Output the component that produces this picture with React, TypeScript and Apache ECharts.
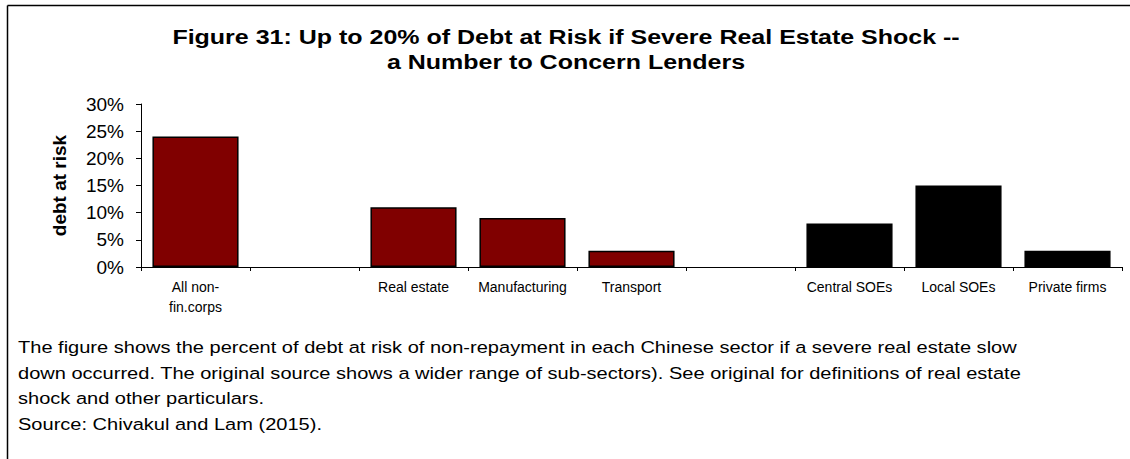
import React, { useEffect, useRef } from "react";
import * as echarts from "echarts";

const categories = [
  "All non-\nfin.corps",
  "",
  "Real estate",
  "Manufacturing",
  "Transport",
  "",
  "Central SOEs",
  "Local SOEs",
  "Private firms",
];
const debtAtRisk: (number | null)[] = [24, null, 11, 9, 3, null, 8, 15, 3];
const yTicks = { min: 0, max: 30, interval: 5 };
const titleLines = [
  "Figure 31: Up to 20% of Debt at Risk if Severe Real Estate Shock --",
  "a Number to Concern Lenders",
];
const noteLines = [
  "The figure shows the percent of debt at risk of non-repayment in each Chinese sector if a severe real estate slow",
  "down occurred. The original source shows a wider range of sub-sectors). See original for definitions of real estate",
  "shock and other particulars.",
  "Source: Chivakul and Lam (2015).",
];

const FONT = "'Liberation Sans', Arial, sans-serif";

export default function App() {
  const ref = useRef<HTMLDivElement>(null);
  useEffect(() => {
    if (!ref.current) return;
    const chart = echarts.init(ref.current, undefined, { renderer: "svg" });
    chart.setOption({
      animation: false,
      backgroundColor: "#ffffff",
      textStyle: { fontFamily: FONT },
      grid: { left: 141, right: 8, top: 104, bottom: 192, containLabel: false },
      xAxis: {
        type: "category",
        data: categories,
        axisLine: { lineStyle: { color: "#000", width: 1 } },
        axisTick: { show: true, length: 4, lineStyle: { color: "#000" } },
        axisLabel: {
          color: "#000",
          fontSize: 14,
          fontFamily: FONT,
          margin: 10,
          lineHeight: 20,
          interval: 0,
        },
      },
      yAxis: {
        type: "value",
        min: yTicks.min,
        max: yTicks.max,
        interval: yTicks.interval,
        name: "debt at risk",
        nameLocation: "middle",
        nameRotate: 90,
        nameGap: 72,
        nameTextStyle: { fontFamily: FONT, fontSize: 19, fontWeight: "bold", color: "#000" },
        splitLine: { show: false },
        axisLine: { show: true, lineStyle: { color: "#000", width: 1 } },
        axisTick: { show: true, length: 5, lineStyle: { color: "#000" } },
        axisLabel: {
          color: "#000",
          fontSize: 19,
          fontFamily: FONT,
          margin: 17,
          formatter: "{value}%",
        },
      },
      series: [
        {
          type: "bar",
          data: debtAtRisk.map((v) => (v === null ? "-" : v)),
          barCategoryGap: "21%",
          itemStyle: {
            color: (p: any) => (p.dataIndex >= 6 ? "#000000" : "#800000"),
            borderColor: "#000",
            borderWidth: 1.5,
          },
        },
      ],
      graphic: [
        {
          type: "line",
          shape: { x1: 7.5, y1: 5.5, x2: 1130, y2: 5.5 },
          style: { stroke: "#000", lineWidth: 1.5 },
        },
        {
          type: "line",
          shape: { x1: 7.5, y1: 5.5, x2: 7.5, y2: 459 },
          style: { stroke: "#000", lineWidth: 1.5 },
        },
        ...titleLines.map((t, i) => ({
          type: "text",
          x: 566,
          y: 37 + i * 25,
          scaleX: 1.25,
          style: {
            text: t,
            font: `bold 20px ${FONT}`,
            fill: "#000",
            align: "center",
            verticalAlign: "middle",
          },
        })),
        ...noteLines.map((t, i) => ({
          type: "text",
          x: 18,
          y: 347 + i * 25.7,
          scaleX: 1.215,
          style: {
            text: t,
            font: `16.5px ${FONT}`,
            fill: "#000",
            align: "left",
            verticalAlign: "middle",
          },
        })),
      ],
    });
    return () => chart.dispose();
  }, []);
  return (
    <div
      ref={ref}
      style={{ position: "fixed", left: 0, top: 0, width: 1130, height: 459 }}
    />
  );
}
